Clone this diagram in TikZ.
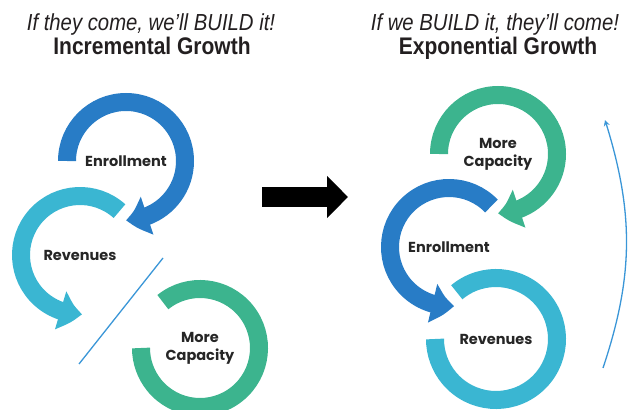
\documentclass[tikz,border=0pt]{standalone}
\usepackage{fontspec}
\setmainfont{Liberation Sans}
\newfontfamily\condfont[FakeStretch=0.875]{Liberation Sans}
\newfontfamily\labelfont{Poppins}
\usetikzlibrary{arrows.meta, bending}
\definecolor{enrblue}{RGB}{40,124,198}
\definecolor{revcyan}{RGB}{58,182,210}
\definecolor{capgreen}{RGB}{60,180,142}
\definecolor{thinblue}{RGB}{58,150,215}
\definecolor{titlegray}{RGB}{35,31,32}

\begin{document}
\begin{tikzpicture}[x=1pt, y=1pt,
    ring/.style={line width=18pt},
    ringarrow/.style={ring, -{Triangle[length=22pt, width=38pt, bend]}},
    lbl/.style={font=\labelfont\bfseries\fontsize{14.5}{18}\selectfont, text=black!85, align=center},
    motto/.style={font=\condfont\itshape\fontsize{23.2}{25}\selectfont, text=titlegray, anchor=base},
    head/.style={font=\condfont\bfseries\fontsize{24}{26}\selectfont, text=titlegray, anchor=base},
    slash/.style={thinblue, line width=1.3pt}]
    \useasboundingbox (0,0) rectangle (638,410);
    %titles
    \node[motto] at (151,379) (mottoL){If they come, we’ll BUILD it!};
    \node[head] at (152,355) (headL){Incremental Growth};
    \node[motto] at (495,379) (mottoR){If we BUILD it, they’ll come!};
    \node[head] at (498,355) (headR){Exponential Growth};

    %left: incremental
    \node[lbl] at (126,249) (enrL){Enrollment};
    \node[lbl] at (80,155) (revL){Revenues};
    \node[lbl] at (200,62) (capL){More\\Capacity};
    \draw[ringarrow, enrblue] ([shift={(180:59pt)}]enrL.center) arc[start angle=180, end angle=-90, radius=59pt];
    \draw[ringarrow, revcyan] ([shift={(48:59pt)}]revL.center) arc[start angle=48, end angle=272, radius=59pt];
    \draw[ring, capgreen] ([shift={(129:59pt)}]capL.center) arc[start angle=129, end angle=-180, radius=59pt];
    \coordinate (slashT) at (163,152);
    \coordinate (slashB) at (79,46);
    \draw[slash] (slashT) -- (slashB);

    %big arrow
    \coordinate (shaftL) at (262,213);
    \coordinate (shaftR) at (348,213);
    \draw[line width=20pt, -{Triangle[length=21pt, width=41pt]}] (shaftL) -- (shaftR);

    %right: exponential
    \node[lbl] at (498,256) (capR){More\\Capacity};
    \node[lbl] at (449,163) (enrR){Enrollment};
    \node[lbl] at (496,71) (revR){Revenues};
    \draw[ringarrow, capgreen] ([shift={(180:59pt)}]capR.center) arc[start angle=180, end angle=-90, radius=59pt];
    \draw[ringarrow, enrblue] ([shift={(44:59pt)}]enrR.center) arc[start angle=44, end angle=275, radius=59pt];
    \draw[ring, revcyan] ([shift={(130:61pt)}]revR.center) arc[start angle=130, end angle=-180, radius=61pt];
    \coordinate (loopB) at (603,42);
    \coordinate (loopT) at (605,290);
    \draw[slash, -{Stealth[length=6pt, width=6pt]}] (loopB) to[bend right=18] (loopT);
\end{tikzpicture}
\end{document}
